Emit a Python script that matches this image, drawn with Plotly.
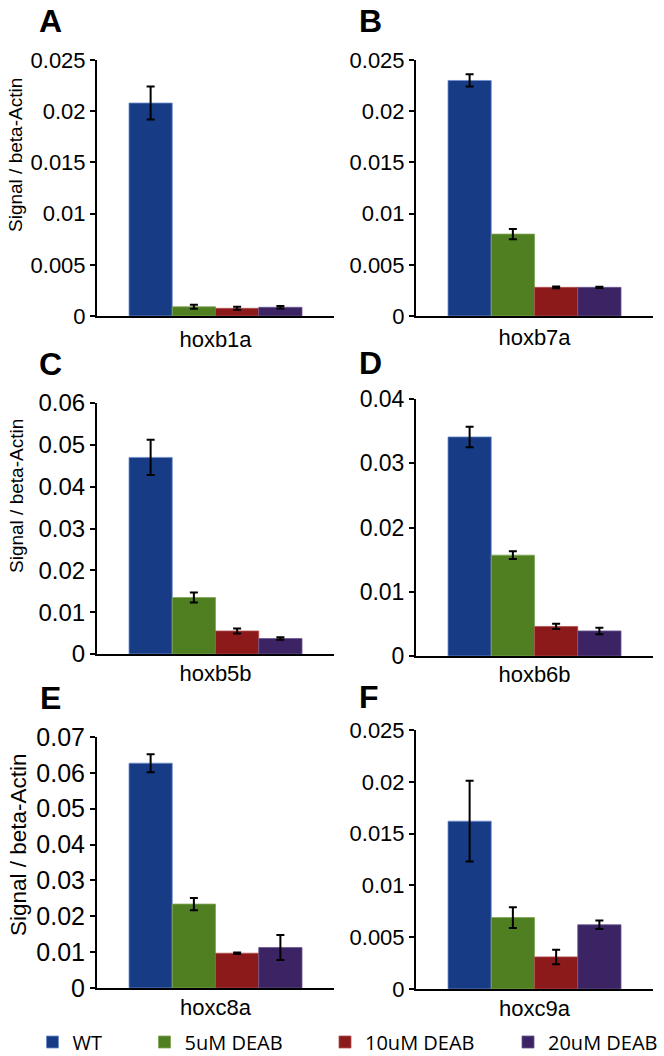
import plotly.graph_objects as go

W, H = 664, 1056

conditions = ["WT", "5uM DEAB", "10uM DEAB", "20uM DEAB"]
colors = ["#173b85", "#4f7f21", "#8c1a1a", "#3c2464"]
edge_colors = ["#6f8fcc", "#7fa656", "#b15050", "#6a5590"]

genes = ["hoxb1a", "hoxb7a", "hoxb5b", "hoxb6b", "hoxc8a", "hoxc9a"]
panel_letters = ["A", "B", "C", "D", "E", "F"]

# values per gene, order: WT, 5uM, 10uM, 20uM
hoxb1a_vals = [0.0208, 0.0009, 0.00075, 0.00085]
hoxb1a_errs = [0.0016, 0.0002, 0.00015, 0.00012]
hoxb7a_vals = [0.0230, 0.0080, 0.0028, 0.0028]
hoxb7a_errs = [0.0006, 0.0005, 0.00008, 0.00006]
hoxb5b_vals = [0.0470, 0.0135, 0.0055, 0.0037]
hoxb5b_errs = [0.0042, 0.0012, 0.0006, 0.0003]
hoxb6b_vals = [0.0341, 0.0157, 0.0046, 0.0039]
hoxb6b_errs = [0.0016, 0.0006, 0.0004, 0.0005]
hoxc8a_vals = [0.0627, 0.0234, 0.0097, 0.0113]
hoxc8a_errs = [0.0025, 0.0017, 0.0002, 0.0035]
hoxc9a_vals = [0.0162, 0.0069, 0.0031, 0.0062]
hoxc9a_errs = [0.0039, 0.0010, 0.0007, 0.0004]

all_vals = [hoxb1a_vals, hoxb7a_vals, hoxb5b_vals, hoxb6b_vals, hoxc8a_vals, hoxc9a_vals]
all_errs = [hoxb1a_errs, hoxb7a_errs, hoxb5b_errs, hoxb6b_errs, hoxc8a_errs, hoxc9a_errs]

y_max = [0.025, 0.025, 0.06, 0.04, 0.07, 0.025]
y_dtick = [0.005, 0.005, 0.01, 0.01, 0.01, 0.005]

# pixel layout (left, right) / (top, bottom) of each plot area
px_x = [(97, 334), (416, 653), (97, 334), (416, 653), (97, 334), (416, 653)]
px_y = [(60, 316), (60, 316), (403, 654), (399, 656), (737, 988), (730, 989)]
letter_pos = [(50, 21), (370, 21), (50, 364), (371, 363), (50, 698), (369, 697)]
ytitle_pos = [(16, 155, 19), (16, 496, 19), (18, 845, 22.5)]
tick_font = [22, 22, 24, 23, 25, 22]
cat_standoff = [3, 1, -1, -2, -1, -1]

FONT = "Liberation Sans, Arial, Helvetica, sans-serif"
LEG_FONT = "Open Sans, Noto Sans, sans-serif"


def fx(px):
    return px / W


def fy(py):
    return 1 - py / H


fig = go.Figure()
layout = dict(
    width=W, height=H,
    margin=dict(l=0, r=0, t=0, b=0, pad=0, autoexpand=False),
    paper_bgcolor="white", plot_bgcolor="white",
    barmode="group", bargap=0.27, bargroupgap=0,
    font=dict(family=FONT, color="black"),
    annotations=[],
)

legend_names = ["legend", "legend2", "legend3", "legend4"]
legend_sq_center = [52.5, 164.5, 345, 528]

for i in range(6):
    ax = "" if i == 0 else str(i + 1)
    for c in range(4):
        fig.add_trace(go.Bar(
            x=[genes[i]], y=[all_vals[i][c]],
            name=conditions[c],
            marker=dict(color=colors[c], line=dict(color=edge_colors[c], width=0.8)),
            error_y=dict(type="data", array=[all_errs[i][c]], color="black",
                         thickness=2, width=4),
            xaxis="x" + ax, yaxis="y" + ax,
            showlegend=(i == 0),
            legend=legend_names[c],
        ))
    l, r = px_x[i]
    t, b = px_y[i]
    layout["xaxis" + ax] = dict(
        domain=[fx(l), fx(r)], anchor="y" + ax,
        showline=True, linecolor="black", linewidth=2,
        ticks="", showgrid=False, zeroline=False,
        ticklabelstandoff=cat_standoff[i],
        tickfont=dict(size=22, family=FONT, color="black"),
        type="category",
    )
    layout["yaxis" + ax] = dict(
        domain=[fy(b), fy(t)], anchor="x" + ax,
        range=[0, y_max[i]], dtick=y_dtick[i], tick0=0,
        showline=True, linecolor="black", linewidth=2,
        ticks="outside", ticklen=5, tickwidth=2, tickcolor="black",
        showgrid=False, zeroline=False,
        tickfont=dict(size=tick_font[i], family=FONT, color="black"),
    )
    lx, ly = letter_pos[i]
    layout["annotations"].append(dict(
        text="<b>%s</b>" % panel_letters[i], x=fx(lx), y=fy(ly),
        xref="paper", yref="paper", xanchor="center", yanchor="middle",
        showarrow=False, font=dict(size=32, family=FONT, color="black"),
    ))

for (tx, ty, fs) in ytitle_pos:
    layout["annotations"].append(dict(
        text="Signal / beta-Actin", x=fx(tx), y=fy(ty),
        xref="paper", yref="paper", xanchor="center", yanchor="middle",
        textangle=-90, showarrow=False,
        font=dict(size=fs, family=FONT, color="black"),
    ))

for k, name in enumerate(legend_names):
    layout[name] = dict(
        x=fx(legend_sq_center[k] - 20), y=fy(1042),
        xanchor="left", yanchor="middle", orientation="h",
        bgcolor="rgba(0,0,0,0)", borderwidth=0,
        font=dict(size=20, family=LEG_FONT, color="black"),
    )

fig.update_layout(**layout)
# remove the browser's default 8px body margin so the figure fills the window
fig.write_html(
    "out.html",
    config={"displayModeBar": False},
    post_script="document.body.style.margin='0';",
)
